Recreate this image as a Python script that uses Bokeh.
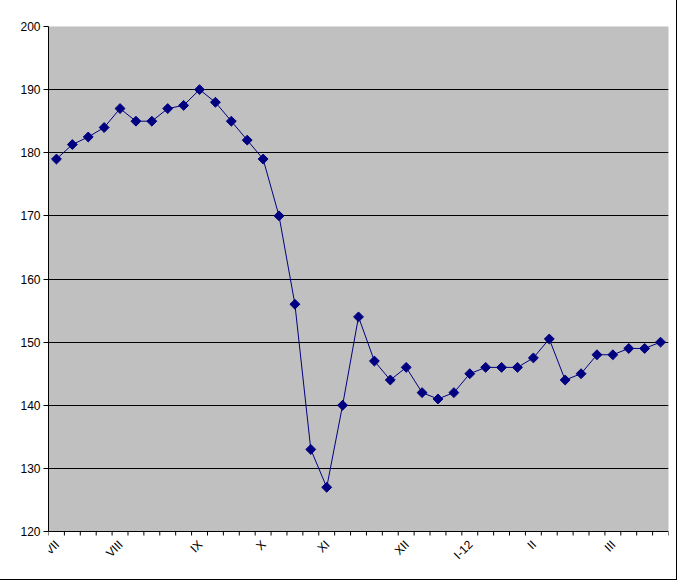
import math
from bokeh.plotting import figure
from bokeh.models import FixedTicker, Range1d, Label, BoxAnnotation
from bokeh.embed import file_html
from bokeh.resources import INLINE

values = [179, 181.3, 182.5, 184, 187, 185, 185, 187, 187.5, 190,
          188, 185, 182, 179, 170, 156, 133, 127, 140, 154,
          147, 144, 146, 142, 141, 142, 145, 146, 146, 146,
          147.5, 150.5, 144, 145, 148, 148, 149, 149, 150]
month_labels = ["VII", "VIII", "IX", "X", "XI", "XII", "I-12", "II", "III"]
month_positions = [0, 4, 9, 13, 17, 22, 26, 30, 35]
y_ticks = [120, 130, 140, 150, 160, 170, 180, 190, 200]

xs = list(range(len(values)))
y_lo, y_hi = 120, 200
x_lo, x_hi = -0.5, len(values) - 0.5

# layout (pixels)
W, H = 676, 579
top_px, left_px, right_px, bottom_px = 26, 48, 8, 8
plot_h_px = 505  # height of the grey plot area (120..200)
ppu = plot_h_px / (y_hi - y_lo)
frame_h = H - top_px - bottom_px
frame_lo = y_hi - frame_h / ppu

p = figure(width=W, height=H, output_backend="svg", toolbar_location=None,
           x_range=Range1d(x_lo, x_hi), y_range=Range1d(frame_lo, y_hi),
           min_border_left=left_px, min_border_right=right_px,
           min_border_top=top_px, min_border_bottom=bottom_px,
           styles={"outline": "1px solid black"})

p.background_fill_color = "white"
p.border_fill_color = "white"
p.outline_line_color = None

# grey plot area
p.add_layout(BoxAnnotation(left=x_lo, right=x_hi, bottom=y_lo, top=y_hi,
                           fill_color="#C0C0C0", fill_alpha=1,
                           line_color="#808080", line_width=1, level="image"))

# horizontal gridlines (the one at 120 acts as the x axis line)
p.xgrid.grid_line_color = None
p.ygrid.ticker = FixedTicker(ticks=y_ticks)
p.ygrid.grid_line_color = "black"
p.ygrid.grid_line_width = 1

# x axis tick marks between categories
bounds = [i - 0.5 for i in range(len(values) + 1)]
p.segment(x0=bounds, y0=[y_lo] * len(bounds), x1=bounds,
          y1=[y_lo - 4 / ppu] * len(bounds), line_color="black", line_width=1)

p.xaxis.visible = False

# data
p.line(xs, values, line_color="#000080", line_width=1)
p.scatter(xs, values, marker="square", size=7, angle=math.pi / 4,
          fill_color="#000080", line_color="#000080")

# rotated month labels
for pos, lab in zip(month_positions, month_labels):
    p.add_layout(Label(x=pos + 0.05, y=y_lo - 11 / ppu, text=lab,
                       angle=math.pi / 4, text_align="right", text_baseline="middle",
                       text_font="Liberation Sans", text_font_size="12px",
                       text_color="black"))

# y axis
p.yaxis.bounds = (y_lo, y_hi)
p.yaxis.ticker = FixedTicker(ticks=y_ticks)
p.yaxis.minor_tick_line_color = None
p.yaxis.major_tick_out = 5
p.yaxis.major_tick_in = 0
p.yaxis.axis_line_color = "black"
p.yaxis.major_label_text_font = "Liberation Sans"
p.yaxis.major_label_text_font_size = "12px"
p.yaxis.major_label_text_color = "black"
p.yaxis.major_label_standoff = 3

open("out.html", "w").write(file_html(p, INLINE))
